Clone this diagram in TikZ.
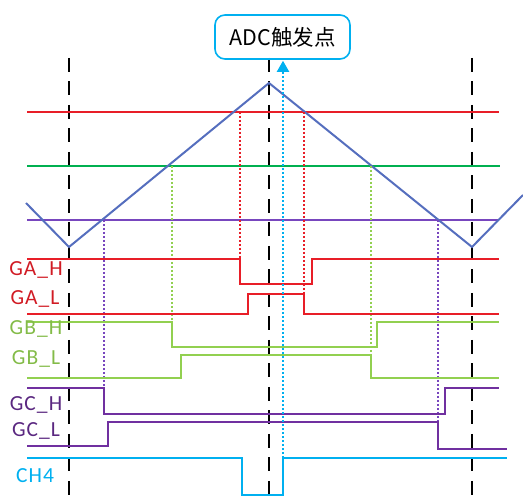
\documentclass[tikz,border=0pt]{standalone}
\usepackage{fontspec}
\setmainfont{Carlito}
\newfontfamily\cjk{Noto Sans CJK SC}
\usetikzlibrary{arrows.meta}
\definecolor{cred}{RGB}{232,30,40}
\definecolor{cdgreen}{RGB}{0,176,80}
\definecolor{clgreen}{RGB}{146,208,80}
\definecolor{cpurple}{RGB}{112,48,160}
\definecolor{cpurpleline}{RGB}{120,70,190}
\definecolor{cblue}{RGB}{85,110,190}
\definecolor{ccyan}{RGB}{0,176,240}
\tikzset{
  sig/.style={line width=2pt, line join=miter},
  thr/.style={line width=2pt},
  guide/.style={line width=2pt, dash pattern=on 2pt off 2pt},
  vdash/.style={line width=2pt, black, dash pattern=on 14pt off 9.5pt},
  lbl/.style={font=\fontsize{21.5}{24}\selectfont\addfontfeature{LetterSpace=5}, inner sep=0pt, anchor=center},
  adcbox/.style={draw=ccyan, line width=1.6pt, rounded corners=10pt, minimum width=135pt, minimum height=44pt, inner sep=0pt, font=\cjk\fontsize{21.5}{24}\selectfont}
}
\begin{document}
\begin{tikzpicture}[x=1pt,y=-1pt]
\useasboundingbox (0,0) rectangle (523,502);
% dashed verticals
\draw[vdash] (69,58) -- (69,502);
\draw[vdash] (269,58) -- (269,502);
\draw[vdash] (472,58) -- (472,502);
% threshold lines
\draw[thr, cred] (27,112) -- (499,112);
\draw[thr, cdgreen] (27,166) -- (500,166);
\draw[thr, cpurpleline] (27,220) -- (499,220);
% triangle carrier
\draw[line width=2pt, cblue, line join=miter] (26,203) -- (69,247) -- (269,83) -- (472,247) -- (523,195);
% guides
\draw[guide, cred] (240,112) -- (240,259);
\draw[guide, cred] (304,112) -- (304,294);
\draw[guide, clgreen] (172,166) -- (172,322);
\draw[guide, clgreen] (371,166) -- (371,355);
\draw[guide, cpurpleline] (104,220) -- (104,388);
\draw[guide, cpurpleline] (438,220) -- (438,422);
% signals
\draw[sig, cred] (27,259) -- (240,259) -- (240,284) -- (312,284) -- (312,259) -- (499,259);
\draw[sig, cred] (27,314) -- (248,314) -- (248,294) -- (304,294) -- (304,314) -- (499,314);
\draw[sig, clgreen] (27,322) -- (172,322) -- (172,347) -- (377,347) -- (377,322) -- (499,322);
\draw[sig, clgreen] (27,378) -- (181,378) -- (181,355) -- (371,355) -- (371,378) -- (499,378);
\draw[sig, cpurple] (27,388) -- (104,388) -- (104,414) -- (445,414) -- (445,388) -- (499,388);
\draw[sig, cpurple] (27,446) -- (108,446) -- (108,422) -- (438,422) -- (438,449) -- (507,449);
\draw[sig, ccyan] (27,458) -- (242,458) -- (242,495) -- (283,495) -- (283,458) -- (507,458);
% labels
\node[lbl, text=cred!90!black] (lgah) at (36,270) {GA\_H};
\node[lbl, text=cred!90!black] (lgal) at (35,299) {GA\_L};
\node[lbl, text=clgreen!90!black] (lgbh) at (36,329) {GB\_H};
\node[lbl, text=clgreen!90!black] (lgbl) at (36,359) {GB\_L};
\node[lbl, text=cpurple!80!black] (lgch) at (36,405) {GC\_H};
\node[lbl, text=cpurple!80!black] (lgcl) at (36,431) {GC\_L};
\node[lbl, text=ccyan] (lch) at (35,476) {CH4};
% ADC box and arrow
\node[adcbox] (adc) at (282.5,37) {ADC触发点};
\coordinate (trig) at (283,458);
\draw[guide, ccyan, -{Triangle[length=11pt,width=12pt]}, shorten >=1pt] (trig) -- (adc.south -| trig);
\end{tikzpicture}
\end{document}
